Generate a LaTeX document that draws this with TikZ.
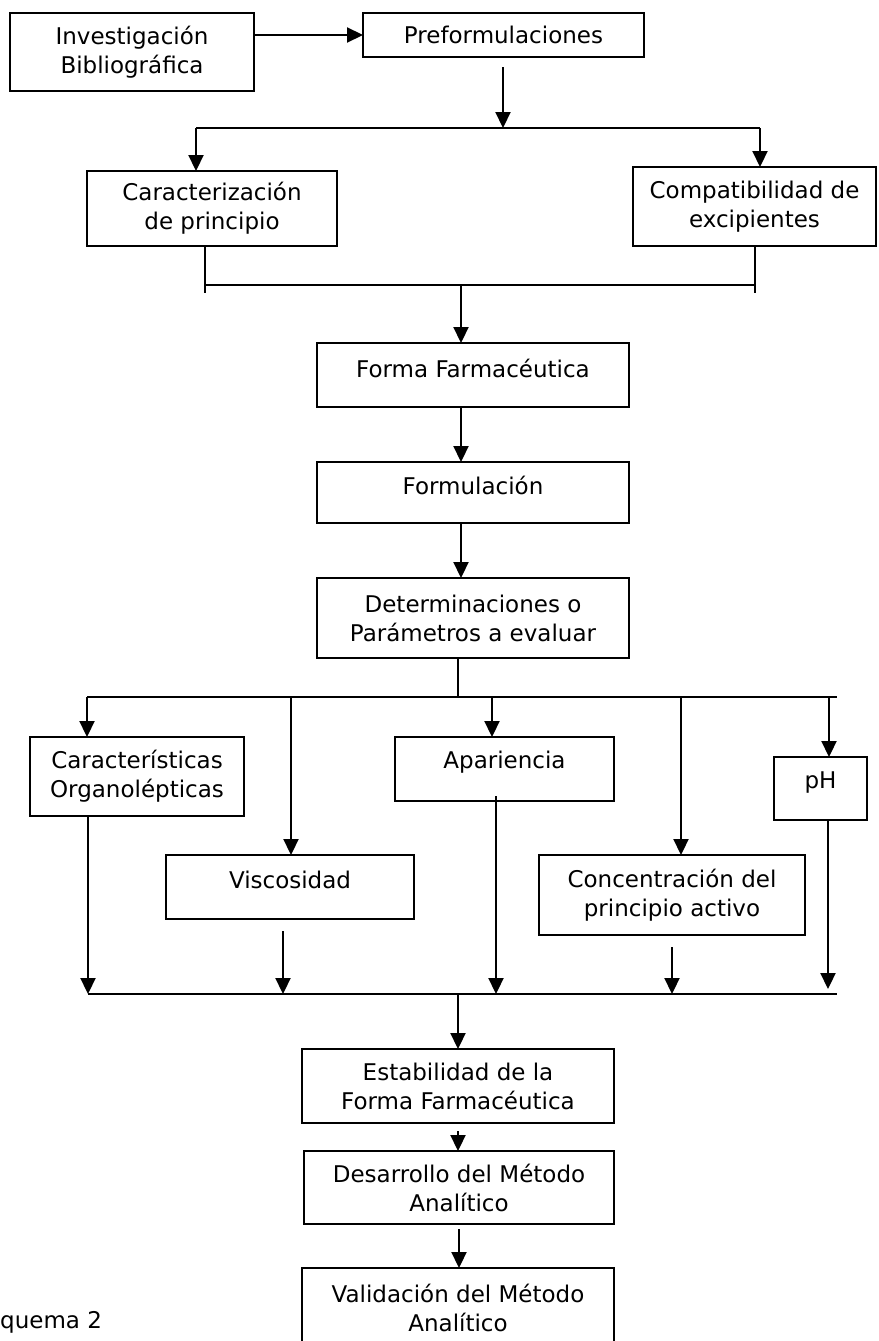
\documentclass[tikz,border=0pt]{standalone}
\usepackage{fontspec}
\setmainfont{DejaVu Sans}
\usetikzlibrary{arrows.meta}
\newcommand\liftt[2]{\raisebox{#1}[\height][\depth]{#2}}
\begin{document}
\begin{tikzpicture}[x=1pt,y=-1pt,
  box/.style={draw, line width=2.2pt, inner sep=0pt, outer sep=0pt, align=center,
    font=\fontsize{23}{29}\selectfont},
  ln/.style={line width=2.2pt},
  arr/.style={ln, -{Triangle[length=16pt,width=15pt]}}]
\useasboundingbox (0,0) rectangle (878,1341);
\clip (0,0) rectangle (878,1341);
\fill[white] (0,0) rectangle (878,1341);
% boxes
\node[box, minimum width=244pt, minimum height=78pt] (inv) at (132,52) {Investigación\\Bibliográfica};
\node[box, minimum width=281pt, minimum height=44pt] (pref) at (503.5,35) {Preformulaciones};
\node[box, minimum width=250pt, minimum height=75pt] (car) at (212,208.5) {Caracterización\\de principio};
\node[box, minimum width=243pt, minimum height=79pt] (comp) at (754.5,206.5) {Compatibilidad de\\excipientes};
\node[box, minimum width=312pt, minimum height=64pt] (ff) at (473,375) {\liftt{7pt}{Forma Farmacéutica}};
\node[box, minimum width=312pt, minimum height=61pt] (form) at (473,492.5) {\liftt{7pt}{Formulación}};
\node[box, minimum width=312pt, minimum height=80pt] (det) at (473,618) {Determinaciones o\\Parámetros a evaluar};
\node[box, minimum width=214pt, minimum height=79pt] (org) at (137,776.5) {Características\\Organolépticas};
\node[box, minimum width=248pt, minimum height=64pt] (visc) at (290,887) {\liftt{7pt}{Viscosidad}};
\node[box, minimum width=219pt, minimum height=64pt] (apar) at (504.5,769) {\liftt{7pt}{Apariencia}};
\node[box, minimum width=266pt, minimum height=80pt] (conc) at (672,895) {Concentración del\\principio activo};
\node[box, minimum width=93pt, minimum height=63pt] (ph) at (820.5,788.5) {\liftt{6pt}{pH}};
\node[box, minimum width=312pt, minimum height=74pt] (est) at (458,1086) {Estabilidad de la\\Forma Farmacéutica};
\node[box, minimum width=310pt, minimum height=73pt] (des) at (459,1187.5) {Desarrollo del Método\\Analítico};
\node[box, minimum width=312pt, minimum height=80pt] (val) at (458,1308) {Validación del Método\\Analítico};
\node[anchor=west, inner sep=0pt, font=\fontsize{23}{29}\selectfont] (esq) at (0,1322) {quema 2};
% top part
\draw[arr] (inv.east |- pref.west) -- (pref.west);
\coordinate (s1) at (503,128);
\coordinate (s1l) at (196,128);
\coordinate (s1r) at (760,128);
\draw[arr] ([yshift=-10pt]pref.south -| s1) -- (s1);
\draw[ln] (s1l) -- (s1r);
\draw[arr] (s1l) -- (s1l |- car.north);
\draw[arr] (s1r) -- (s1r |- comp.north);
\coordinate (m1l) at (205,285);
\coordinate (m1r) at (755,285);
\coordinate (m1) at (461,285);
\draw[ln] (car.south -| m1l) -- ([yshift=-8pt]m1l);
\draw[ln] (comp.south -| m1r) -- ([yshift=-8pt]m1r);
\draw[ln] (m1l) -- (m1r);
\draw[arr] (m1) -- (m1 |- ff.north);
\draw[arr] (ff.south -| m1) -- (form.north -| m1);
\draw[arr] (form.south -| m1) -- (det.north -| m1);
% distribution bus
\coordinate (b1) at (458,697);
\coordinate (b1l) at (87,697);
\coordinate (b1r) at (837,697);
\coordinate (b2) at (291,697);
\coordinate (b3) at (492,697);
\coordinate (b4) at (681,697);
\coordinate (b5) at (829,697);
\draw[ln] (det.south -| b1) -- (b1);
\draw[ln] (b1l) -- (b1r);
\draw[arr] (b1l) -- (b1l |- org.north);
\draw[arr] (b2) -- (b2 |- visc.north);
\draw[arr] (b3) -- (b3 |- apar.north);
\draw[arr] (b4) -- (b4 |- conc.north);
\draw[arr] (b5) -- (b5 |- ph.north);
% collecting bus
\coordinate (c1) at (458,994);
\coordinate (c1l) at (88,994);
\coordinate (c1r) at (837,994);
\coordinate (c2) at (283,994);
\coordinate (c3) at (496,994);
\coordinate (c4) at (672,994);
\coordinate (c5) at (828,989);
\draw[ln] (c1l) -- (c1r);
\draw[arr] (org.south -| c1l) -- (c1l);
\draw[arr] ([yshift=-12pt]visc.south -| c2) -- (c2);
\draw[arr] ([yshift=5pt]apar.south -| c3) -- (c3);
\draw[arr] ([yshift=-12pt]conc.south -| c4) -- (c4);
\draw[arr] (ph.south -| c5) -- (c5);
\draw[arr] (c1) -- (c1 |- est.north);
\draw[arr] ([yshift=-8pt]est.south) -- (est.south |- des.north);
\draw[arr] ([yshift=-5pt]des.south) -- (des.south |- val.north);
\end{tikzpicture}
\end{document}
